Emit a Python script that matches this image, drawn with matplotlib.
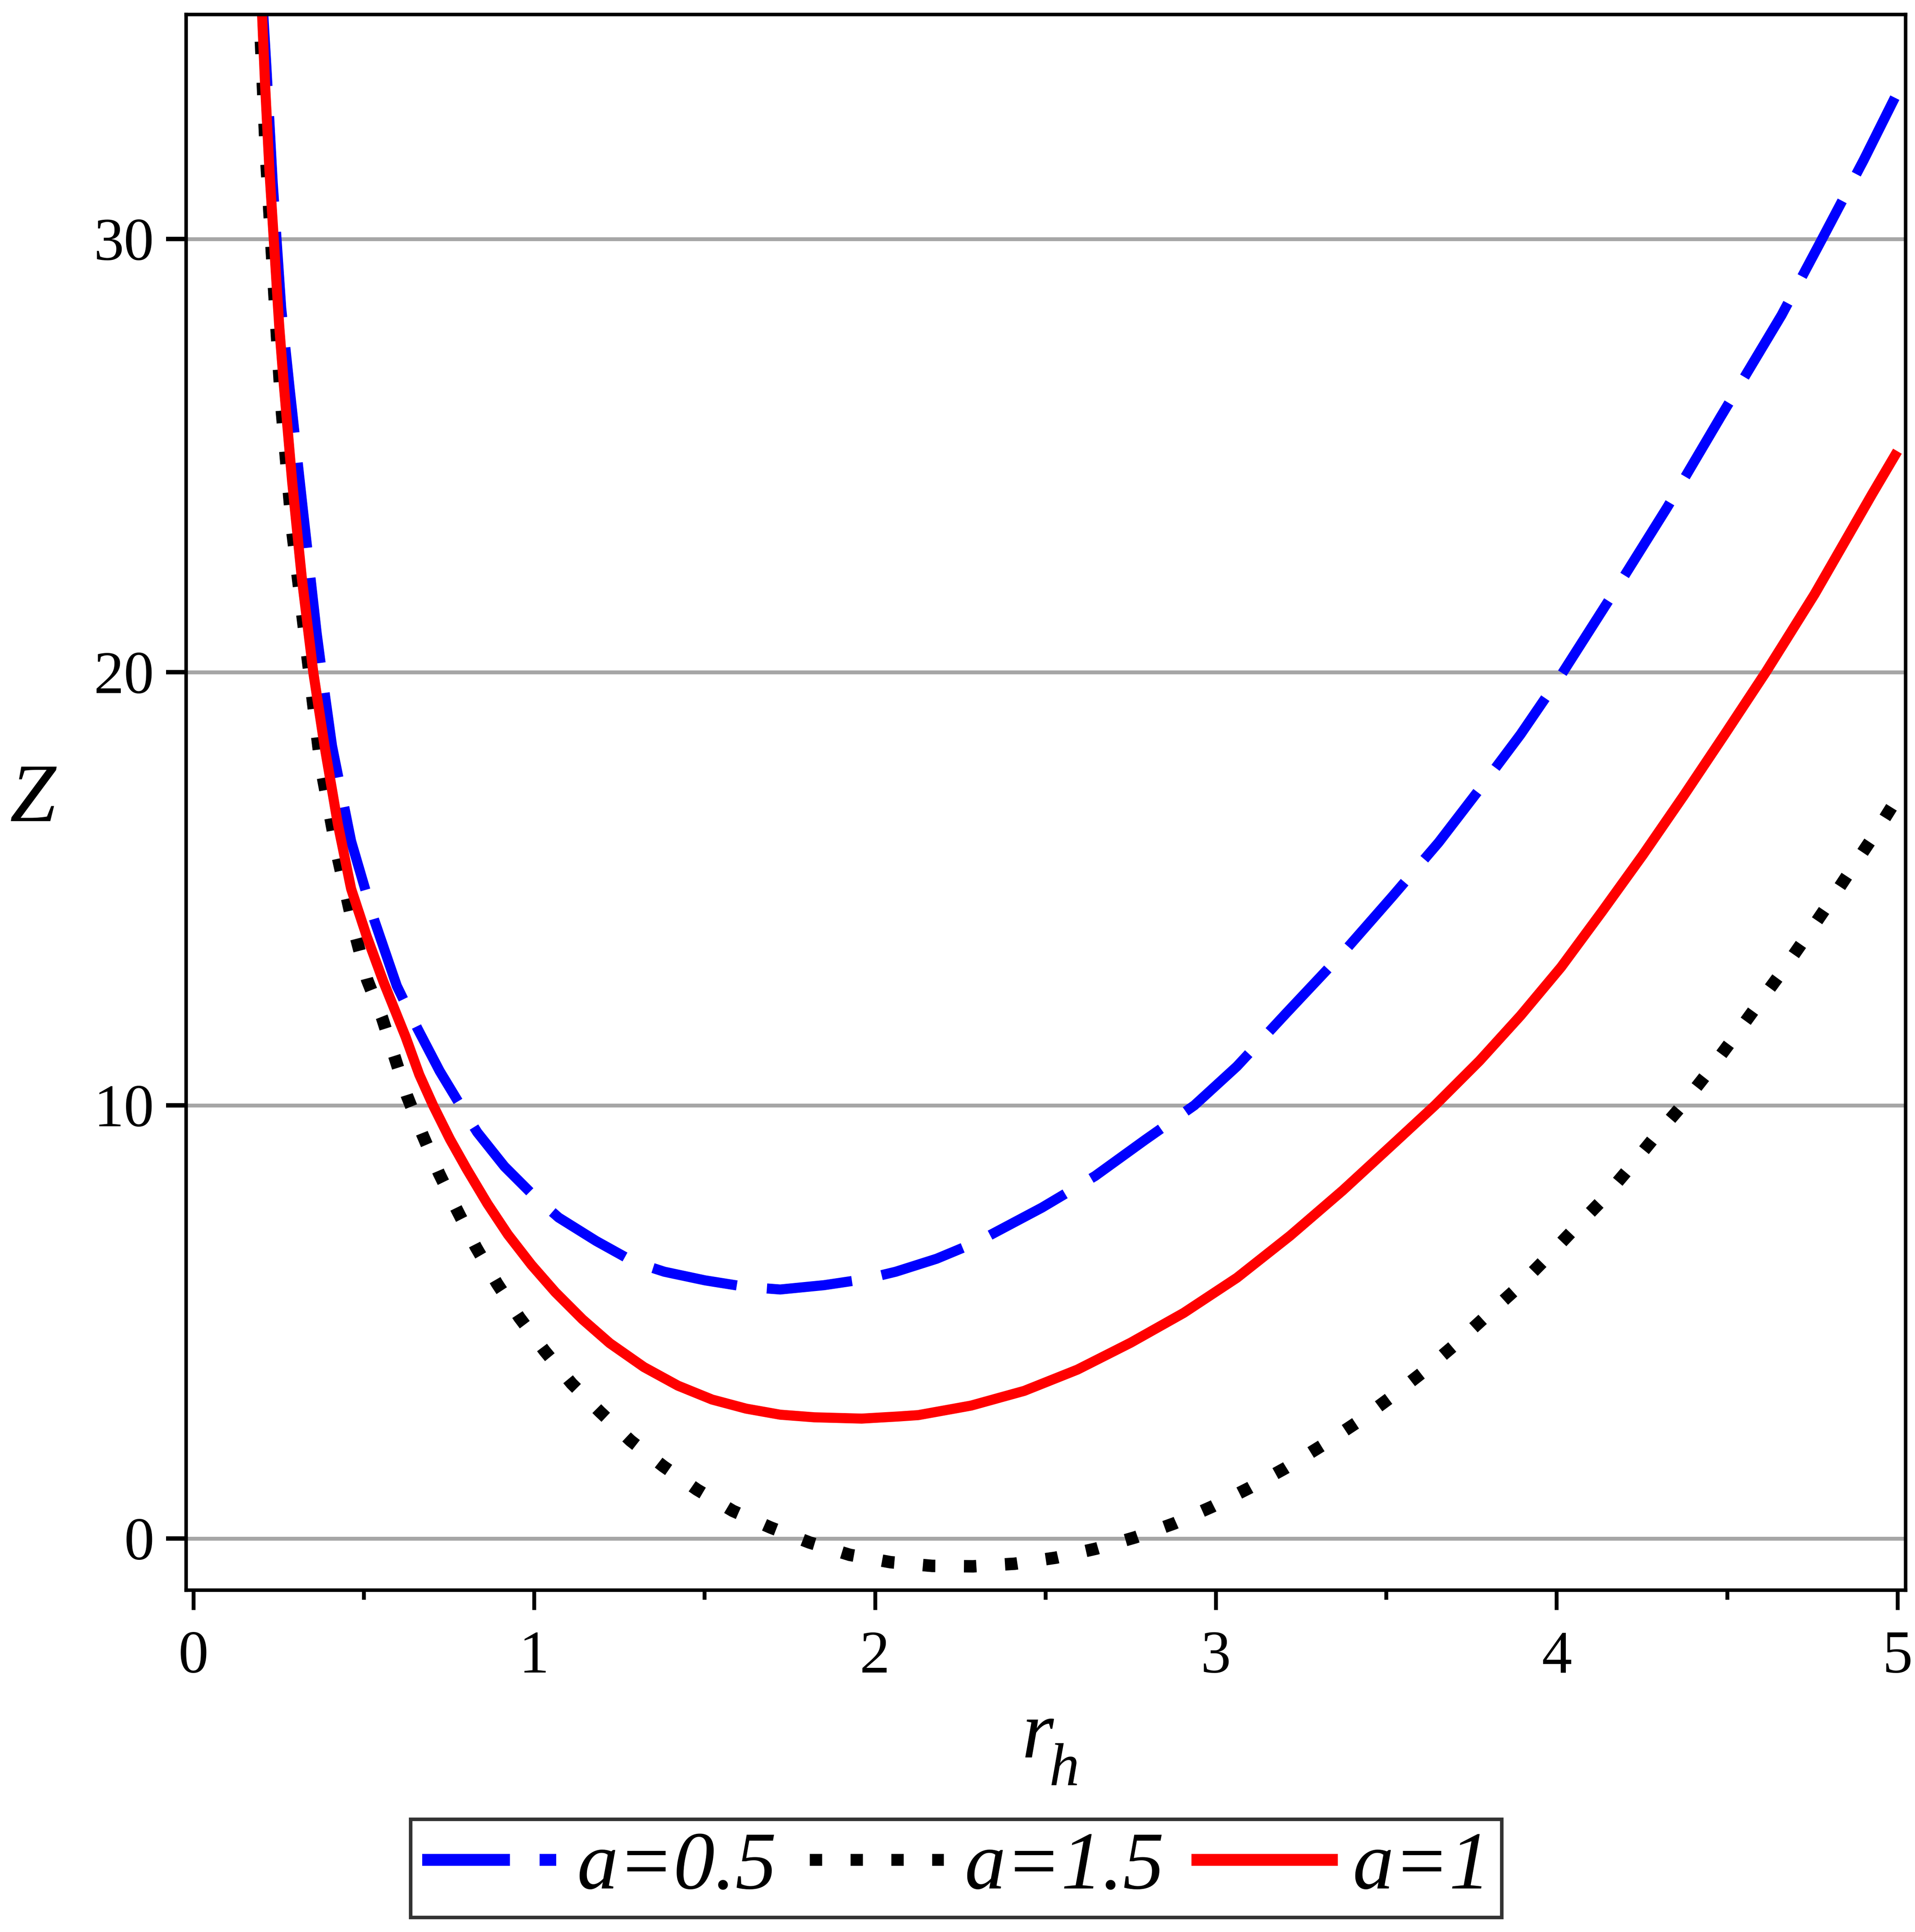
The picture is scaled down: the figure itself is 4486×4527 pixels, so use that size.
import matplotlib
matplotlib.use('Agg')
import matplotlib.pyplot as plt
from matplotlib.lines import Line2D
from matplotlib.ticker import MultipleLocator

# values
r_a05 = [0.203, 0.215, 0.233, 0.258, 0.282, 0.318, 0.362, 0.377, 0.407, 0.463,
         0.530, 0.597, 0.658, 0.723, 0.783, 0.833, 0.913, 1.002, 1.072, 1.182,
         1.292, 1.382, 1.502, 1.622, 1.722, 1.851, 1.971, 2.061, 2.181, 2.303,
         2.490, 2.646, 2.792, 2.937, 3.062, 3.207, 3.373, 3.519, 3.654, 3.774,
         3.894, 4.013, 4.086, 4.193, 4.325, 4.481, 4.660, 4.781, 4.901, 5.0]
z_a05 = [35.5, 33.9, 31.3, 28.4, 26.6, 24.0, 20.9, 20.0, 18.3, 16.1,
         14.3, 12.76, 11.77, 10.79, 10.01, 9.38, 8.59, 7.89, 7.41, 6.87,
         6.39, 6.16, 5.96, 5.81, 5.75, 5.85, 5.99, 6.16, 6.46, 6.86,
         7.64, 8.37, 9.2, 10.0, 10.9, 12.13, 13.52, 14.83, 16.07, 17.3,
         18.56, 19.93, 20.83, 22.15, 23.81, 25.89, 28.24, 30.03, 31.82, 33.38]

r_a15 = [0.188, 0.196, 0.213, 0.232, 0.257, 0.290, 0.325, 0.374, 0.424, 0.474,
         0.510, 0.554, 0.591, 0.627, 0.671, 0.721, 0.774, 0.829, 0.891, 0.957,
         1.031, 1.110, 1.194, 1.283, 1.379, 1.478, 1.583, 1.694, 1.808, 1.926,
         2.046, 2.168, 2.288, 2.410, 2.531, 2.650, 2.764, 2.878, 2.990, 3.101,
         3.205, 3.310, 3.412, 3.508, 3.604, 3.698, 3.787, 3.877, 3.961, 4.046,
         4.130, 4.210, 4.287, 4.365, 4.441, 4.514, 4.586, 4.658, 4.727, 4.796,
         4.863, 4.931, 5.0]
z_a15 = [35.5, 34.99, 31.97, 29.5, 26.28, 23.29, 21.0, 17.84, 15.73, 13.98,
         12.9, 12.02, 11.11, 10.22, 9.35, 8.43, 7.58, 6.73, 5.89, 5.10,
         4.33, 3.58, 2.92, 2.26, 1.67, 1.13, 0.64, 0.255, -0.09, -0.375,
         -0.545, -0.63, -0.64, -0.58, -0.44, -0.23, 0.03, 0.35, 0.74, 1.18,
         1.63, 2.14, 2.67, 3.23, 3.82, 4.45, 5.09, 5.73, 6.40, 7.10,
         7.78, 8.52, 9.26, 9.97, 10.73, 11.50, 12.28, 13.05, 13.83, 14.63,
         15.43, 16.23, 17.1]

r_a1 = [0.200, 0.211, 0.224, 0.236, 0.252, 0.266, 0.290, 0.318, 0.352, 0.385,
        0.424, 0.463, 0.509, 0.558, 0.623, 0.663, 0.703, 0.753, 0.803, 0.863,
        0.923, 0.992, 1.062, 1.142, 1.222, 1.322, 1.422, 1.522, 1.622, 1.722,
        1.822, 1.961, 2.071, 2.127, 2.282, 2.438, 2.594, 2.750, 2.906, 3.062,
        3.218, 3.373, 3.529, 3.643, 3.774, 3.894, 4.013, 4.133, 4.253, 4.373,
        4.493, 4.613, 4.672, 4.757, 4.852, 4.925, 5.0]
z_a1 = [35.5, 33.5, 31.5, 30.0, 28.0, 26.6, 24.4, 22.2, 20.0, 18.3,
        16.5, 15.0, 13.9, 12.85, 11.58, 10.71, 10.01, 9.22, 8.52, 7.73,
        7.02, 6.32, 5.69, 5.06, 4.51, 3.96, 3.53, 3.21, 3.00, 2.86,
        2.80, 2.77, 2.82, 2.85, 3.07, 3.41, 3.90, 4.52, 5.21, 6.02,
        6.99, 8.04, 9.17, 10.0, 11.03, 12.07, 13.19, 14.47, 15.78, 17.15,
        18.56, 19.99, 20.73, 21.8, 23.1, 24.1, 25.1]

x_ticks = [0, 1, 2, 3, 4, 5]
y_ticks = [0, 10, 20, 30]
labels = ['a=0.5', 'a=1.5', 'a=1']

plt.rcParams['font.family'] = ['Liberation Serif', 'DejaVu Serif']

fig = plt.figure(figsize=(44.86, 45.27), dpi=100)
ax = fig.add_axes([0.0972, 0.17694, 0.8979, 0.81555])

ax.plot(r_a05, z_a05, color='#0000ff', lw=17, linestyle=(0, (8.5, 3.0)),
        dash_joinstyle='round')
ax.plot(r_a15, z_a15, color='black', lw=21, linestyle=(0, (1.0, 2.3)))
ax.plot(r_a1, z_a1, color='#ff0000', lw=17, solid_capstyle='butt',
        solid_joinstyle='round')

ax.set_xlim(-0.021, 5.024)
ax.set_ylim(-1.19, 35.18)

ax.set_xticks(x_ticks)
ax.set_xticklabels([str(t) for t in x_ticks])
ax.xaxis.set_minor_locator(MultipleLocator(0.5))
ax.set_yticks(y_ticks)
ax.set_yticklabels([str(t) for t in y_ticks])

ax.tick_params(axis='x', which='major', length=33, width=6.5, pad=35, labelsize=102)
ax.tick_params(axis='x', which='minor', length=16, width=6.5)
ax.tick_params(axis='y', which='major', length=34, width=7.5, pad=20, labelsize=102)

ax.set_axisbelow(True)
ax.yaxis.grid(True, color='#a6a6a6', lw=6.5)
for s in ax.spines.values():
    s.set_linewidth(6)

# axis labels (Maple style: Z upright on the left, r with subscript h)
fig.text(0.0172, 0.5854, 'Z', fontsize=140, style='italic', ha='center', va='center')
fig.text(0.5419, 0.0903, 'r', fontsize=138, style='italic', ha='center', va='baseline')
fig.text(0.5557, 0.0760, 'h', fontsize=102, style='italic', ha='center', va='baseline')

# legend with thicker sample lines like the reference
handles = [
    Line2D([], [], color='#0000ff', lw=20, linestyle=(0, (7.4, 2.5))),
    Line2D([], [], color='black', lw=20, linestyle=(0, (1.04, 2.4))),
    Line2D([], [], color='#ff0000', lw=20),
]
leg = fig.legend(handles, labels, loc='center', bbox_to_anchor=(0.4993, 0.0329),
                 bbox_transform=fig.transFigure, ncol=3, frameon=True, fancybox=False,
                 prop={'family': 'Liberation Serif', 'style': 'italic', 'size': 139},
                 handlelength=1.63, handletextpad=0.25, columnspacing=0.4,
                 borderpad=0.14, borderaxespad=0)
leg.get_frame().set_edgecolor('black')
leg.get_frame().set_linewidth(6)

fig.savefig('out.png', dpi=100)
